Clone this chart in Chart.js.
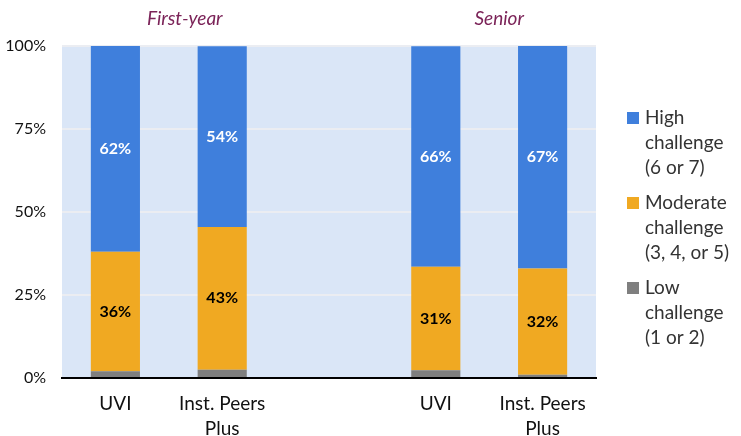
<!DOCTYPE html>
<html lang="en">
<head>
<meta charset="UTF-8"/>
<title>Challenge level</title>
<script src="https://cdn.jsdelivr.net/npm/chart.js@4/dist/chart.umd.min.js"></script>
<style>
    html, body { margin: 0; padding: 0; background: #fff; }
    #wrap { width: 741px; height: 436px; position: relative; }
</style>
</head>
<body>
<div id="wrap"><canvas id="myChart" width="741" height="436"></canvas></div>
<script>
    // categories (middle slot is the empty gap between the two groups)
    const labels = ['UVI', ['Inst. Peers', 'Plus'], '', 'UVI', ['Inst. Peers', 'Plus']];
    const groups = ['First-year', 'Senior'];

    const low = [2, 2.5, null, 2.3, 1];
    const moderate = [36, 43, null, 31.2, 32];
    const high = [62, 54.4, null, 66.4, 67];

    const legendLines = [
        ['High', 'challenge', '(6 or 7)'],
        ['Moderate', 'challenge', '(3, 4, or 5)'],
        ['Low', 'challenge', '(1 or 2)']
    ];
    const yTicks = [0, 25, 50, 75, 100];

    const FONT = 'Lato, "Open Sans", sans-serif';

    // light blue plot background
    const plotBg = {
        id: 'plotBg',
        beforeDraw(chart) {
            const {ctx, chartArea: a} = chart;
            ctx.save();
            ctx.fillStyle = '#dae6f7';
            ctx.fillRect(a.left, a.top, a.right - a.left, a.bottom - a.top);
            ctx.restore();
        }
    };

    // percentages inside the bars
    const barLabels = {
        id: 'barLabels',
        afterDatasetsDraw(chart) {
            const ctx = chart.ctx;
            ctx.save();
            ctx.font = 'bold 16px ' + FONT;
            ctx.textAlign = 'center';
            ctx.textBaseline = 'middle';
            chart.data.datasets.forEach((ds, i) => {
                if (!ds.showLabel) return;
                chart.getDatasetMeta(i).data.forEach((bar, j) => {
                    const v = ds.data[j];
                    if (v == null) return;
                    ctx.fillStyle = ds.labelColor;
                    ctx.fillText(Math.round(v) + '%', bar.x, (bar.y + bar.base) / 2);
                });
            });
            ctx.restore();
        }
    };

    // group titles and the multi-line legend
    const extras = {
        id: 'extras',
        afterDraw(chart) {
            const ctx = chart.ctx;
            const x = chart.scales.x;
            ctx.save();
            ctx.font = 'italic 19px ' + FONT;
            ctx.fillStyle = '#7b2358';
            ctx.textAlign = 'center';
            ctx.textBaseline = 'middle';
            ctx.fillText(groups[0], (x.getPixelForValue(0) + x.getPixelForValue(1)) / 2 + 16, 19);
            ctx.fillText(groups[1], (x.getPixelForValue(3) + x.getPixelForValue(4)) / 2 + 10, 19);

            ctx.font = '19px ' + FONT;
            ctx.textAlign = 'left';
            const sets = chart.data.datasets.slice().reverse();
            let y = 118;
            sets.forEach((ds, i) => {
                ctx.fillStyle = ds.backgroundColor;
                ctx.fillRect(627, y - 6, 12, 12);
                ctx.fillStyle = '#333';
                legendLines[i].forEach((line, k) => {
                    ctx.fillText(line, 645, y + k * 25);
                });
                y += 85;
            });
            ctx.restore();
        }
    };

    new Chart(document.getElementById('myChart'), {
        type: 'bar',
        data: {
            labels: labels,
            datasets: [
                {label: 'Low challenge (1 or 2)', data: low, backgroundColor: '#7f7f7f', showLabel: false},
                {label: 'Moderate challenge (3, 4, or 5)', data: moderate, backgroundColor: '#f0a922', showLabel: true, labelColor: '#000'},
                {label: 'High challenge (6 or 7)', data: high, backgroundColor: '#3f7fdc', showLabel: true, labelColor: '#fff'}
            ]
        },
        options: {
            responsive: false,
            animation: false,
            layout: {padding: {top: 46, right: 145, left: 0, bottom: 0}},
            datasets: {bar: {barPercentage: 0.46, categoryPercentage: 1}},
            plugins: {
                legend: {display: false},
                tooltip: {enabled: false}
            },
            scales: {
                x: {
                    stacked: true,
                    grid: {display: false},
                    border: {color: '#000', width: 2},
                    ticks: {color: '#111', font: {family: FONT, size: 19, lineHeight: 1.3}, padding: 6, maxRotation: 0},
                    afterFit(s) { s.height = 58; }
                },
                y: {
                    stacked: true,
                    min: 0,
                    max: 100,
                    afterBuildTicks(s) { s.ticks = yTicks.map(v => ({value: v})); },
                    grid: {color: '#ebedf2', lineWidth: 2, drawTicks: false},
                    border: {display: false},
                    ticks: {color: '#111', font: {family: FONT, size: 16}, padding: 16, callback: v => v + '%'},
                    afterFit(s) { s.width = 62; }
                }
            }
        },
        plugins: [plotBg, barLabels, extras]
    });
</script>
</body>
</html>
